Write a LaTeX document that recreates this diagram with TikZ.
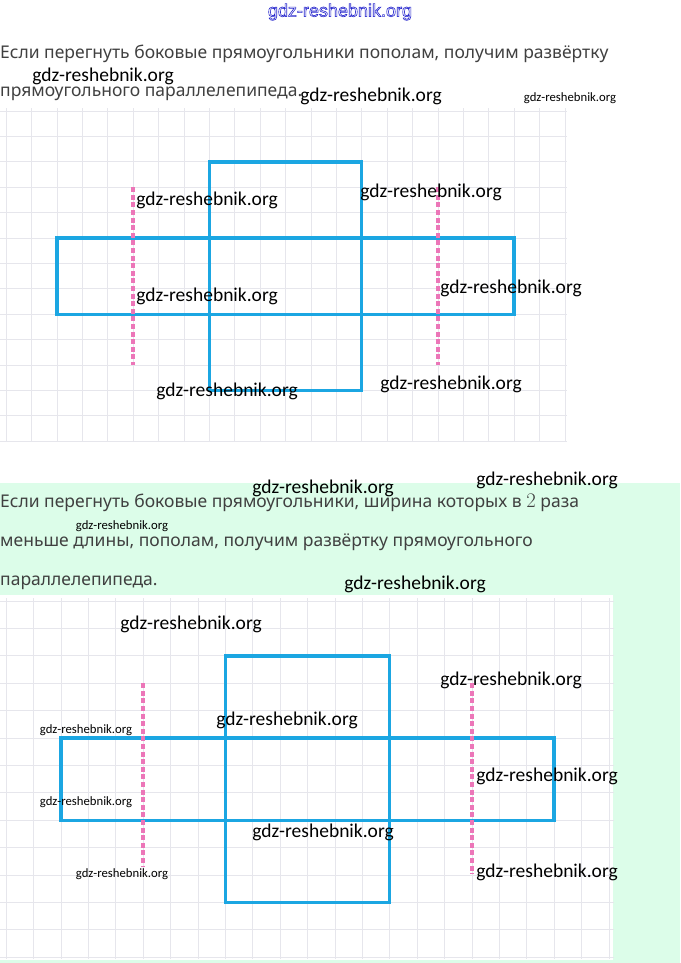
\documentclass[tikz,border=0pt]{standalone}
\usepackage{fontspec}
\setmainfont{Noto Sans}
\newfontfamily\markfont{Carlito}
\newfontfamily\logofont{Liberation Sans}
\usetikzlibrary{positioning}

\definecolor{netblue}{RGB}{27,166,226}
\definecolor{foldpink}{RGB}{236,118,184}
\definecolor{gridgray}{RGB}{230,230,236}
\definecolor{panelgreen}{RGB}{220,253,233}
\definecolor{textgray}{RGB}{64,64,64}
\definecolor{logoblue}{RGB}{40,40,205}

\begin{document}
\begin{tikzpicture}[x=1pt, y=-1pt,
		cell/.style  = {draw=gridgray, line width=0.8pt},
		face/.style  = {draw=netblue, line width=3.4pt},
		fold/.style  = {draw=foldpink, line width=3.4pt, dash pattern=on 5pt off 2.6pt},
		task/.style  = {anchor=base west, inner sep=0pt, text=textgray, font=\fontsize{17.5}{20}\selectfont},
		stamp/.style = {inner sep=0pt, text=black, font=\markfont\fontsize{19.5}{22}\selectfont},
		small stamp/.style = {stamp, font=\markfont\fontsize{12.7}{14}\selectfont},
		logo/.style  = {inner sep=0pt, text=logoblue, font=\logofont\fontsize{18}{20}\selectfont}]
	
	% page and the two backgrounds
	\useasboundingbox (0,0) rectangle (680,963);
	\fill[panelgreen] (0,483) rectangle (680,963);
	\fill[white] (0,595) rectangle (613,960);
	
	% first net, on its own grid
	\begin{scope}[shift={(6.1,111)}, x=25.4pt, y=-25.4pt]
		\foreach \i in {0,...,22}
		\draw[cell] (\i,-0.1) -- (\i,13.05);
		\foreach \j in {0,...,13}
		\draw[cell] (-0.25,\j) -- (22.1,\j);
		\draw[face] (8,2) rectangle (14,11);
		\draw[face] (2,5) rectangle (20,8);
		\draw[fold] (5,3) -- (5,10);
		\draw[fold] (17,3) -- (17,10);
	\end{scope}
	
	% second net, larger cells
	\begin{scope}[shift={(6.1,601)}, x=27.4pt, y=-27.4pt]
		\foreach \i in {0,...,22}
		\draw[cell] (\i,-0.1) -- (\i,13.05);
		\foreach \j in {0,...,13}
		\draw[cell] (-0.22,\j) -- (22.2,\j);
		\draw[face] (8,2) rectangle (14,11);
		\draw[face] (2,5) rectangle (20,8);
		\draw[fold] (5,3) -- (5,9.7);
		\draw[fold] (17,3) -- (17,9.95);
	\end{scope}
	
	% the two statements
	\node[task] (q1a) at (0,59) {Если перегнуть боковые прямоугольники пополам, получим развёртку};
	\node[task] (q1b) at (0,97) {прямоугольного параллелепипеда.};
	\node[task] (q2a) at (0,507) {Если перегнуть боковые прямоугольники, ширина которых в {\fontsize{20}{20}\selectfont$2$} раза};
	\node[task] (q2b) at (0,546) {меньше длины, пополам, получим развёртку прямоугольного};
	\node[task] (q2c) at (0,585) {параллелепипеда.};
	
	% watermarks
	\node[logo] (logo) at (340,12) {\special{pdf:literal direct 1 Tr 0.6 w}gdz-reshebnik.org\special{pdf:literal direct 0 Tr}};
	\foreach \x/\y [count=\k] in {103/76, 371/96, 207/200, 431/192, 207/296, 511/288, 227/391, 451/384,
		547/480, 323/488, 415/584, 191/624, 511/680, 287/720, 547/776, 323/832, 547/872}
	\node[stamp] (stamp\k) at (\x,\y) {gdz-reshebnik.org};
	\foreach \x/\y [count=\k] in {570/98, 122/526, 86/730, 86/802, 122/874}
	\node[small stamp] (sstamp\k) at (\x,\y) {gdz-reshebnik.org};
	
\end{tikzpicture}
\end{document}
